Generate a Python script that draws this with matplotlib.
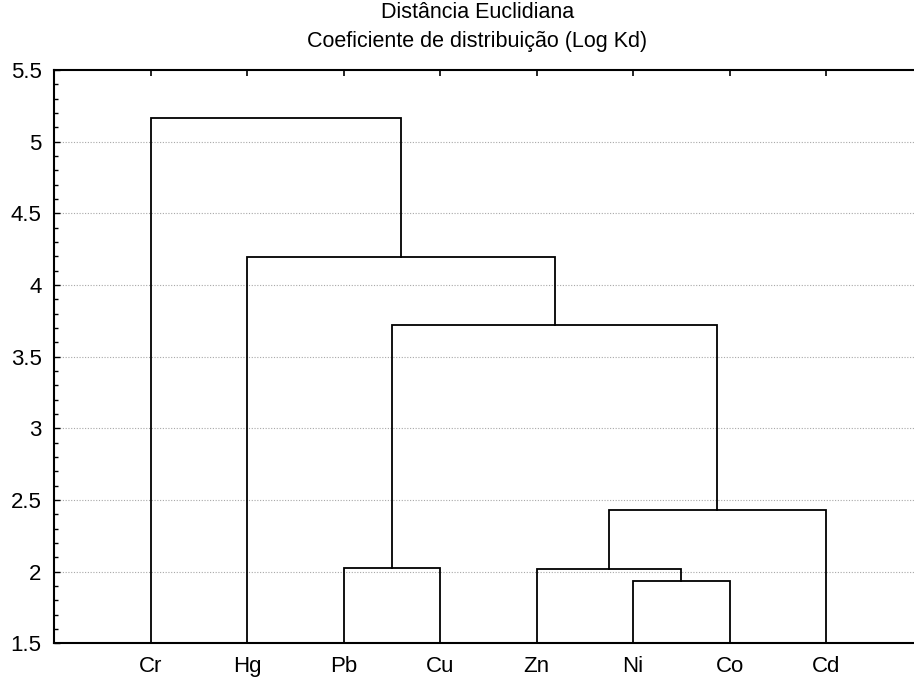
import numpy as np
import matplotlib.pyplot as plt
from matplotlib.ticker import MultipleLocator, FormatStrFormatter

plt.rcParams['font.family'] = ['Liberation Sans', 'DejaVu Sans']

# leaf labels in dendrogram order
labels = ['Cr', 'Hg', 'Pb', 'Cu', 'Zn', 'Ni', 'Co', 'Cd']

# merge steps: (left cluster, right cluster, linkage distance)
# ids 0..7 are the leaves, each merge creates id 8, 9, ...
merge_a = [5, 4, 2, 9, 10, 1, 0]
merge_b = [6, 8, 3, 7, 11, 12, 13]
merge_h = [1.937, 2.018, 2.023, 2.430, 3.718, 4.193, 5.163]

ymin, ymax = 1.5, 5.5

fig = plt.figure(figsize=(9.14, 6.77), dpi=100)
ax = fig.add_axes([0.0591, 0.0498, 0.9502, 0.8468])

pos = {i: i + 1.0 for i in range(len(labels))}
height = {i: ymin for i in range(len(labels))}
for k, (a, b, h) in enumerate(zip(merge_a, merge_b, merge_h)):
    xa, xb = pos[a], pos[b]
    ax.plot([xa, xa, xb, xb], [height[a], h, h, height[b]],
            color='black', lw=1.3, solid_joinstyle='miter', zorder=3)
    new = len(labels) + k
    pos[new] = (xa + xb) / 2
    height[new] = h

ax.set_xlim(0, len(labels) + 1)
ax.set_ylim(ymin, ymax)
ax.set_xticks(range(1, len(labels) + 1))
ax.set_xticklabels(labels)
ax.yaxis.set_major_locator(MultipleLocator(0.5))
ax.yaxis.set_minor_locator(MultipleLocator(0.1))
ax.yaxis.set_major_formatter(FormatStrFormatter('%g'))

for v in np.arange(2.0, 5.01, 0.5):
    ax.axhline(v, color='#a8a8a8', lw=0.8, ls=(0, (1, 1.5)), zorder=1)

ax.tick_params(axis='y', which='major', direction='in', length=4, width=1,
               labelsize=16, pad=9)
ax.tick_params(axis='y', which='minor', direction='in', length=3, width=1)
ax.tick_params(axis='x', which='major', direction='in', length=4, width=1.2,
               top=True, bottom=False, labelsize=16, pad=9)

for side in ['left', 'bottom', 'top']:
    ax.spines[side].set_linewidth(1.5)
ax.spines['right'].set_visible(False)

fig.text(0.522, 0.982, 'Distância Euclidiana', ha='center', va='center', fontsize=15.5)
fig.text(0.522, 0.939, 'Coeficiente de distribuição (Log Kd)', ha='center',
         va='center', fontsize=15.5)

fig.savefig('out.png', dpi=100)
